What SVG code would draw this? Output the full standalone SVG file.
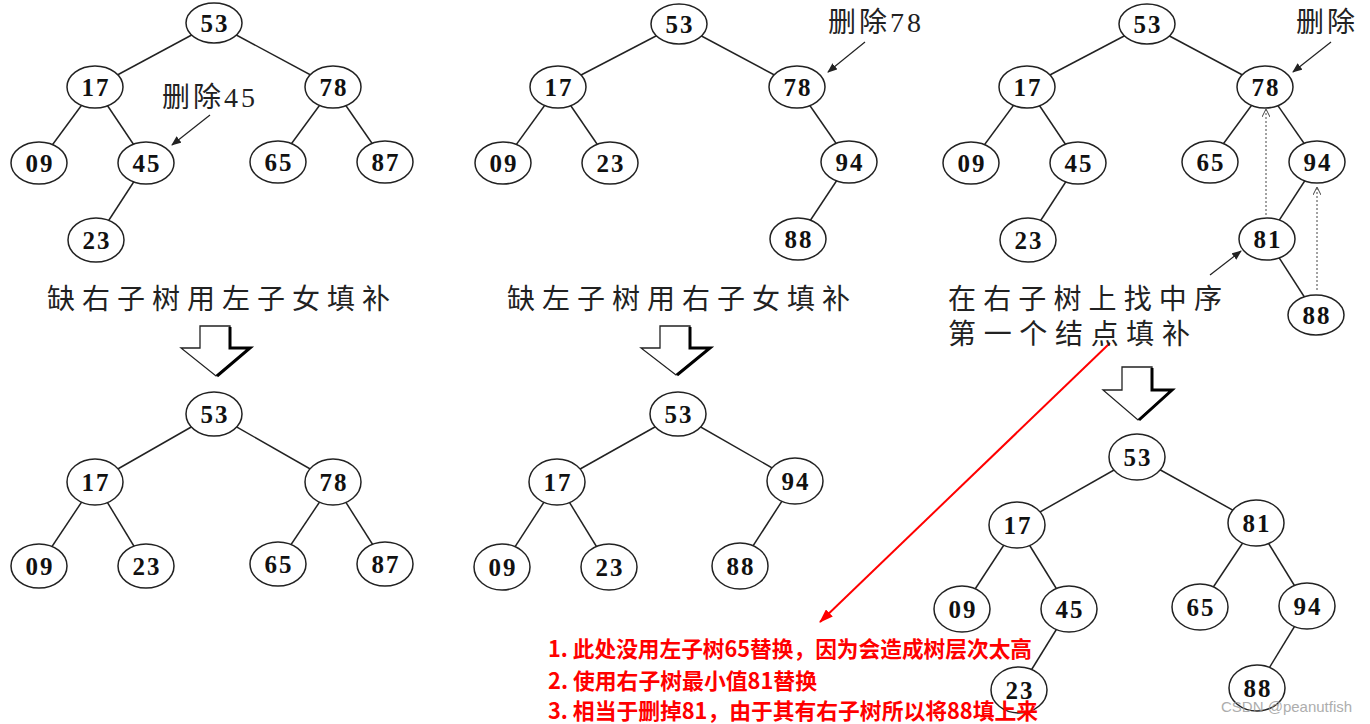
<svg xmlns="http://www.w3.org/2000/svg" width="1370" height="724" viewBox="0 0 1370 724">
<style>
.e{stroke:#222;stroke-width:1.5;fill:none}
.n ellipse{fill:#fff;stroke:#222;stroke-width:1.5}
.n text{font-family:"Liberation Serif",serif;font-size:25px;fill:#111;text-anchor:middle;letter-spacing:2px;font-weight:bold}
.lbl{font-family:"Liberation Serif","Noto Sans CJK SC",serif;font-size:28px;fill:#222;letter-spacing:3px}
.cap{font-family:"Noto Sans CJK SC",sans-serif;font-size:28px;fill:#222}
.red{font-family:"Noto Sans CJK SC",sans-serif;font-size:22px;font-weight:bold;fill:#ff0000}
.big{fill:#fff;stroke:#222;stroke-width:1.3}
.sh{fill:none;stroke:#000;stroke-width:3}
</style>
<defs>
<marker id="ah" markerWidth="10" markerHeight="8" refX="9" refY="4" orient="auto" markerUnits="userSpaceOnUse"><path d="M0,0 L10,4 L0,8 z" fill="#222"/></marker>
<marker id="ahs" markerWidth="8" markerHeight="8" refX="7" refY="4" orient="auto" markerUnits="userSpaceOnUse"><path d="M0,0 L8,4 L0,8" fill="none" stroke="#444" stroke-width="1"/></marker>
<marker id="ar" markerWidth="14" markerHeight="10" refX="13" refY="5" orient="auto" markerUnits="userSpaceOnUse"><path d="M0,0 L14,5 L0,10 z" fill="#ff0000"/></marker>
</defs>
<rect width="1370" height="724" fill="#fff"/>
<g id="connectors">
<line class="e" x1="214" y1="23" x2="95" y2="87"/><line class="e" x1="214" y1="23" x2="333" y2="87"/>
<line class="e" x1="95" y1="87" x2="39" y2="163"/><line class="e" x1="95" y1="87" x2="146" y2="163"/>
<line class="e" x1="146" y1="163" x2="96" y2="240"/>
<line class="e" x1="333" y1="87" x2="278" y2="162"/><line class="e" x1="333" y1="87" x2="385" y2="162"/>
<line class="e" x1="679" y1="24" x2="558" y2="87"/><line class="e" x1="679" y1="24" x2="797" y2="87"/>
<line class="e" x1="558" y1="87" x2="503" y2="163"/><line class="e" x1="558" y1="87" x2="610" y2="163"/>
<line class="e" x1="797" y1="87" x2="849" y2="162"/><line class="e" x1="849" y1="162" x2="798" y2="239"/>
<line class="e" x1="1147" y1="24" x2="1027" y2="87"/><line class="e" x1="1147" y1="24" x2="1265" y2="87"/>
<line class="e" x1="1027" y1="87" x2="971" y2="163"/><line class="e" x1="1027" y1="87" x2="1078" y2="163"/>
<line class="e" x1="1078" y1="163" x2="1028" y2="240"/>
<line class="e" x1="1265" y1="87" x2="1210" y2="162"/><line class="e" x1="1265" y1="87" x2="1317" y2="162"/>
<line class="e" x1="1317" y1="162" x2="1267" y2="239"/><line class="e" x1="1267" y1="239" x2="1316" y2="315"/>
<line class="e" x1="214" y1="414" x2="95" y2="482"/><line class="e" x1="214" y1="414" x2="333" y2="482"/>
<line class="e" x1="95" y1="482" x2="39" y2="566"/><line class="e" x1="95" y1="482" x2="146" y2="566"/>
<line class="e" x1="333" y1="482" x2="278" y2="564"/><line class="e" x1="333" y1="482" x2="385" y2="564"/>
<line class="e" x1="678" y1="414" x2="557" y2="482"/><line class="e" x1="678" y1="414" x2="795" y2="481"/>
<line class="e" x1="557" y1="482" x2="502" y2="567"/><line class="e" x1="557" y1="482" x2="609" y2="567"/>
<line class="e" x1="795" y1="481" x2="740" y2="566"/>
<line class="e" x1="1137" y1="457" x2="1017" y2="525"/><line class="e" x1="1137" y1="457" x2="1256" y2="523"/>
<line class="e" x1="1017" y1="525" x2="962" y2="609"/><line class="e" x1="1017" y1="525" x2="1069" y2="609"/>
<line class="e" x1="1069" y1="609" x2="1019" y2="690"/>
<line class="e" x1="1256" y1="523" x2="1200" y2="607"/><line class="e" x1="1256" y1="523" x2="1307" y2="606"/>
<line class="e" x1="1307" y1="606" x2="1257" y2="688"/>
<line x1="210" y1="115" x2="172" y2="145" stroke="#222" stroke-width="1.2" marker-end="url(#ah)"/>
<line x1="865" y1="42" x2="828" y2="72" stroke="#222" stroke-width="1.2" marker-end="url(#ah)"/>
<line x1="1331" y1="42" x2="1293" y2="72" stroke="#222" stroke-width="1.2" marker-end="url(#ah)"/>
<line x1="1210" y1="275" x2="1241" y2="251" stroke="#222" stroke-width="1.2" marker-end="url(#ah)"/>
<line x1="1266" y1="215" x2="1266" y2="110" stroke="#444" stroke-width="1" stroke-dasharray="2,2" marker-end="url(#ahs)"/>
<line x1="1317" y1="290" x2="1317" y2="188" stroke="#444" stroke-width="1" stroke-dasharray="2,2" marker-end="url(#ahs)"/>
<line x1="1110" y1="343" x2="820" y2="622" stroke="#ff0000" stroke-width="2" marker-end="url(#ar)"/>
</g>
<g id="a53" class="n"><ellipse cx="214" cy="23" rx="28" ry="20"/><text x="215" y="32">53</text></g>
<g id="a17" class="n"><ellipse cx="95" cy="87" rx="28" ry="21"/><text x="96" y="96">17</text></g>
<g id="a78" class="n"><ellipse cx="333" cy="87" rx="28" ry="21"/><text x="334" y="96">78</text></g>
<g id="a09" class="n"><ellipse cx="39" cy="163" rx="28" ry="21"/><text x="40" y="172">09</text></g>
<g id="a45" class="n"><ellipse cx="146" cy="163" rx="28" ry="21"/><text x="147" y="172">45</text></g>
<g id="a65" class="n"><ellipse cx="278" cy="162" rx="28" ry="21"/><text x="279" y="171">65</text></g>
<g id="a87" class="n"><ellipse cx="385" cy="162" rx="28" ry="21"/><text x="386" y="171">87</text></g>
<g id="a23" class="n"><ellipse cx="96" cy="240" rx="28" ry="22"/><text x="97" y="249">23</text></g>

<g id="b53" class="n"><ellipse cx="679" cy="24" rx="28" ry="20"/><text x="680" y="33">53</text></g>
<g id="b17" class="n"><ellipse cx="558" cy="87" rx="28" ry="21"/><text x="559" y="96">17</text></g>
<g id="b78" class="n"><ellipse cx="797" cy="87" rx="28" ry="21"/><text x="798" y="96">78</text></g>
<g id="b09" class="n"><ellipse cx="503" cy="163" rx="28" ry="21"/><text x="504" y="172">09</text></g>
<g id="b23" class="n"><ellipse cx="610" cy="163" rx="28" ry="21"/><text x="611" y="172">23</text></g>
<g id="b94" class="n"><ellipse cx="849" cy="162" rx="28" ry="21"/><text x="850" y="171">94</text></g>
<g id="b88" class="n"><ellipse cx="798" cy="239" rx="28" ry="21"/><text x="799" y="248">88</text></g>

<g id="c53" class="n"><ellipse cx="1147" cy="24" rx="28" ry="20"/><text x="1148" y="33">53</text></g>
<g id="c17" class="n"><ellipse cx="1027" cy="87" rx="28" ry="21"/><text x="1028" y="96">17</text></g>
<g id="c78" class="n"><ellipse cx="1265" cy="87" rx="28" ry="21"/><text x="1266" y="96">78</text></g>
<g id="c09" class="n"><ellipse cx="971" cy="163" rx="28" ry="21"/><text x="972" y="172">09</text></g>
<g id="c45" class="n"><ellipse cx="1078" cy="163" rx="28" ry="21"/><text x="1079" y="172">45</text></g>
<g id="c65" class="n"><ellipse cx="1210" cy="162" rx="28" ry="21"/><text x="1211" y="171">65</text></g>
<g id="c94" class="n"><ellipse cx="1317" cy="162" rx="28" ry="21"/><text x="1318" y="171">94</text></g>
<g id="c23" class="n"><ellipse cx="1028" cy="240" rx="28" ry="22"/><text x="1029" y="249">23</text></g>
<g id="c81" class="n"><ellipse cx="1267" cy="239" rx="28" ry="21"/><text x="1268" y="248">81</text></g>
<g id="c88" class="n"><ellipse cx="1316" cy="315" rx="28" ry="20"/><text x="1317" y="324">88</text></g>

<g id="d53" class="n"><ellipse cx="214" cy="414" rx="28" ry="22"/><text x="215" y="423">53</text></g>
<g id="d17" class="n"><ellipse cx="95" cy="482" rx="28" ry="23"/><text x="96" y="491">17</text></g>
<g id="d78" class="n"><ellipse cx="333" cy="482" rx="28" ry="23"/><text x="334" y="491">78</text></g>
<g id="d09" class="n"><ellipse cx="39" cy="566" rx="28" ry="22"/><text x="40" y="575">09</text></g>
<g id="d23" class="n"><ellipse cx="146" cy="566" rx="28" ry="22"/><text x="147" y="575">23</text></g>
<g id="d65" class="n"><ellipse cx="278" cy="564" rx="28" ry="22"/><text x="279" y="573">65</text></g>
<g id="d87" class="n"><ellipse cx="385" cy="564" rx="28" ry="22"/><text x="386" y="573">87</text></g>

<g id="e53" class="n"><ellipse cx="678" cy="414" rx="28" ry="22"/><text x="679" y="423">53</text></g>
<g id="e17" class="n"><ellipse cx="557" cy="482" rx="28" ry="23"/><text x="558" y="491">17</text></g>
<g id="e94" class="n"><ellipse cx="795" cy="481" rx="28" ry="23"/><text x="796" y="490">94</text></g>
<g id="e09" class="n"><ellipse cx="502" cy="567" rx="28" ry="23"/><text x="503" y="576">09</text></g>
<g id="e23" class="n"><ellipse cx="609" cy="567" rx="28" ry="23"/><text x="610" y="576">23</text></g>
<g id="e88" class="n"><ellipse cx="740" cy="566" rx="28" ry="23"/><text x="741" y="575">88</text></g>

<g id="f53" class="n"><ellipse cx="1137" cy="457" rx="28" ry="23"/><text x="1138" y="466">53</text></g>
<g id="f17" class="n"><ellipse cx="1017" cy="525" rx="28" ry="23"/><text x="1018" y="534">17</text></g>
<g id="f81" class="n"><ellipse cx="1256" cy="523" rx="28" ry="23"/><text x="1257" y="532">81</text></g>
<g id="f09" class="n"><ellipse cx="962" cy="609" rx="28" ry="23"/><text x="963" y="618">09</text></g>
<g id="f45" class="n"><ellipse cx="1069" cy="609" rx="28" ry="23"/><text x="1070" y="618">45</text></g>
<g id="f65" class="n"><ellipse cx="1200" cy="607" rx="28" ry="23"/><text x="1201" y="616">65</text></g>
<g id="f94" class="n"><ellipse cx="1307" cy="606" rx="28" ry="23"/><text x="1308" y="615">94</text></g>
<g id="f23" class="n"><ellipse cx="1019" cy="690" rx="28" ry="23"/><text x="1020" y="699">23</text></g>
<g id="f88" class="n"><ellipse cx="1257" cy="688" rx="28" ry="23"/><text x="1258" y="697">88</text></g>

<text class="lbl" x="162" y="107">删除45</text>
<text class="lbl" x="828" y="32">删除78</text>
<text class="lbl" x="1296" y="32">删除</text>
<text class="cap" x="47" y="309" textLength="343" lengthAdjust="spacing">缺右子树用左子女填补</text>
<text class="cap" x="507" y="309" textLength="343" lengthAdjust="spacing">缺左子树用右子女填补</text>
<text class="cap" x="948" y="309" textLength="274" lengthAdjust="spacing">在右子树上找中序</text>
<text class="cap" x="948" y="344" textLength="242" lengthAdjust="spacing">第一个结点填补</text>

<g id="bigarrow1"><polygon class="big" points="200,326 230,326 230,348 250,348 216,376 181,348 200,348"/><polyline class="sh" points="230,327 230,348 250,348 217,376"/></g>
<g id="bigarrow2"><polygon class="big" points="660,326 690,326 690,348 710,348 676,375 641,348 660,348"/><polyline class="sh" points="690,327 690,348 710,348 677,375"/></g>
<g id="bigarrow3"><polygon class="big" points="1122,367 1152,367 1152,390 1172,390 1138,420 1103,390 1122,390"/><polyline class="sh" points="1152,368 1152,390 1172,390 1139,420"/></g>

<text class="red" x="548" y="657" textLength="484" lengthAdjust="spacingAndGlyphs">1. 此处没用左子树65替换，因为会造成树层次太高</text>
<text class="red" x="548" y="689" textLength="269" lengthAdjust="spacingAndGlyphs">2. 使用右子树最小值81替换</text>
<text class="red" x="548" y="719" textLength="490" lengthAdjust="spacingAndGlyphs">3. 相当于删掉81，由于其有右子树所以将88填上来</text>
<text x="1221" y="712" font-family="Liberation Sans,sans-serif" font-size="15" fill="#999" opacity="0.8">CSDN @peanutfish</text>
</svg>
